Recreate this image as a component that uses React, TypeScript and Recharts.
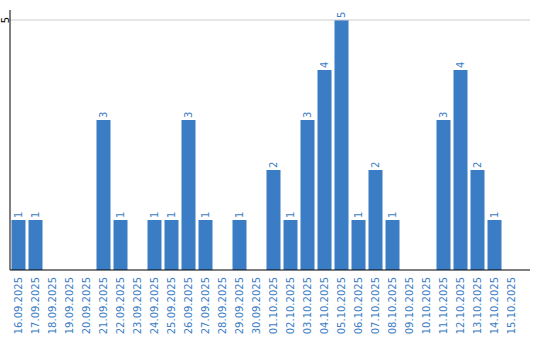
import React from "react";
import { BarChart, Bar, XAxis, YAxis, ReferenceLine, LabelList } from "recharts";

const dates = [
  "16.09.2025", "17.09.2025", "18.09.2025", "19.09.2025", "20.09.2025",
  "21.09.2025", "22.09.2025", "23.09.2025", "24.09.2025", "25.09.2025",
  "26.09.2025", "27.09.2025", "28.09.2025", "29.09.2025", "30.09.2025",
  "01.10.2025", "02.10.2025", "03.10.2025", "04.10.2025", "05.10.2025",
  "06.10.2025", "07.10.2025", "08.10.2025", "09.10.2025", "10.10.2025",
  "11.10.2025", "12.10.2025", "13.10.2025", "14.10.2025", "15.10.2025",
];
const counts = [
  1, 1, 0, 0, 0, 3, 1, 0, 1, 1,
  3, 1, 0, 1, 0, 2, 1, 3, 4, 5,
  1, 2, 1, 0, 0, 3, 4, 2, 1, 0,
];
const yTicks = [5];

const data = dates.map((d, i) => ({ date: d, value: counts[i] }));

const BLUE = "#3b7dc4";
const FONT = "'DejaVu Sans', sans-serif";
const AXIS_Y = 270;

const XTick = (props: any) => {
  const { x, payload } = props;
  const ty = AXIS_Y + 7;
  return (
    <text
      x={x}
      y={ty}
      transform={`rotate(-90, ${x}, ${ty})`}
      textAnchor="end"
      dy="0.35em"
      fill={BLUE}
      fontSize={10}
      fontFamily={FONT}
    >
      {payload.value}
    </text>
  );
};

const YTick = (props: any) => {
  const { y, payload } = props;
  const x = 5;
  return (
    <text
      x={x}
      y={y}
      transform={`rotate(-90, ${x}, ${y})`}
      textAnchor="middle"
      dy="0.35em"
      fill="#000"
      fontSize={10}
      fontFamily={FONT}
    >
      {payload.value}
    </text>
  );
};

const ValueLabel = (props: any) => {
  const { x, y, width, value } = props;
  if (!value) return null;
  const cx = x + width / 2;
  const ty = y - 2;
  return (
    <text
      x={cx}
      y={ty}
      transform={`rotate(-90, ${cx}, ${ty})`}
      textAnchor="start"
      dy="0.35em"
      fill={BLUE}
      fontSize={10}
      fontFamily={FONT}
    >
      {value}
    </text>
  );
};

export default function App() {
  return (
    <div style={{ position: "absolute", left: 0, top: 0, background: "#fff" }}>
      <BarChart
        width={540}
        height={340}
        data={data}
        margin={{ top: 10, right: 10, bottom: 0, left: 0 }}
        barCategoryGap={1.5}
      >
        <ReferenceLine y={5} stroke="#cccccc" />
        <XAxis
          dataKey="date"
          interval={0}
          tickLine={false}
          axisLine={{ stroke: "#000" }}
          height={70}
          padding={{ left: 0, right: 10 }}
          tick={<XTick />}
        />
        <YAxis
          domain={[0, 5.2]}
          ticks={yTicks}
          tickLine={false}
          axisLine={{ stroke: "#000" }}
          width={10}
          tick={<YTick />}
        />
        <Bar dataKey="value" fill={BLUE} isAnimationActive={false}>
          <LabelList dataKey="value" content={<ValueLabel />} />
        </Bar>
      </BarChart>
    </div>
  );
}
